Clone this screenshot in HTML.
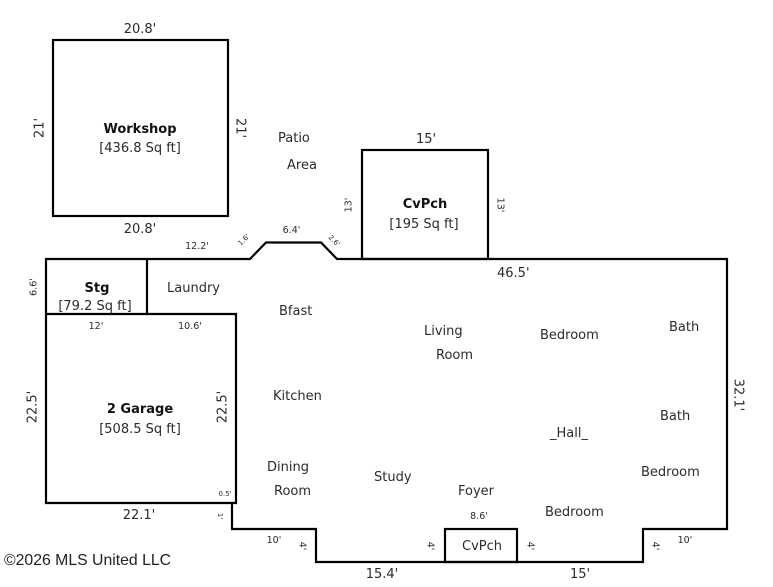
<!DOCTYPE html>
<html>
<head>
<meta charset="utf-8">
<style>
  html,body{margin:0;padding:0;background:#fff;}
  svg{display:block;}
  text{font-family:"DejaVu Sans","Liberation Sans",sans-serif;fill:#2b2b2b;}
  .b{font-weight:bold;fill:#111;}
  .r{font-size:13px;}
  .s{font-size:9.5px;}
  .t{font-size:7px;}
  .c{font-family:"Liberation Sans",Arial,sans-serif;font-size:15.8px;fill:#222;}
</style>
</head>
<body>
<svg width="773" height="587" viewBox="0 0 773 587" xmlns="http://www.w3.org/2000/svg">
  <rect width="773" height="587" fill="#fff"/>
  <g fill="none" stroke="#000" stroke-width="2.2" stroke-linejoin="miter">
    <!-- Workshop -->
    <rect x="53" y="40" width="175" height="176"/>
    <!-- Top CvPch -->
    <rect x="362" y="150" width="126" height="109"/>
    <!-- House outline -->
    <path d="M46,259 L250,259 L266,242.5 L321,242.5 L337,259 L727,259 L727,529 L643,529 L643,562 L316,562 L316,529 L232,529 L232,503 L46,503 Z"/>
    <!-- Stg / Garage -->
    <line x1="147" y1="259" x2="147" y2="314"/>
    <path d="M46,314 L236,314 L236,503 L232,503"/>
    <!-- Bottom CvPch -->
    <rect x="445" y="529" width="72" height="33"/>
  </g>

  <!-- Workshop -->
  <text class="r" x="140" y="33" text-anchor="middle">20.8'</text>
  <text class="r b" x="140" y="133" text-anchor="middle">Workshop</text>
  <text class="r" x="140" y="152" text-anchor="middle">[436.8 Sq ft]</text>
  <text class="r" x="140" y="233" text-anchor="middle">20.8'</text>
  <text class="r" transform="translate(40,128) rotate(-90)" text-anchor="middle" dominant-baseline="central">21'</text>
  <text class="r" transform="translate(240,128) rotate(90)" text-anchor="middle" dominant-baseline="central">21'</text>

  <!-- Patio -->
  <text class="r" x="278" y="142">Patio</text>
  <text class="r" x="287" y="169">Area</text>

  <!-- Top CvPch -->
  <text class="r" x="426" y="143" text-anchor="middle">15'</text>
  <text class="r b" x="425" y="208" text-anchor="middle">CvPch</text>
  <text class="r" x="424" y="228" text-anchor="middle">[195 Sq ft]</text>
  <text class="s" transform="translate(349,205) rotate(-90)" text-anchor="middle" dominant-baseline="central">13'</text>
  <text class="s" transform="translate(500,205) rotate(90)" text-anchor="middle" dominant-baseline="central">13'</text>

  <!-- bump -->
  <text class="s" x="291.5" y="233" text-anchor="middle">6.4'</text>
  <text class="t" transform="translate(244,240) rotate(-45)" text-anchor="middle" dominant-baseline="central">1.6'</text>
  <text class="t" transform="translate(334,241) rotate(45)" text-anchor="middle" dominant-baseline="central">2.6'</text>
  <text class="s" x="197" y="249" text-anchor="middle">12.2'</text>
  <text class="r" x="497" y="277">46.5'</text>

  <!-- Stg -->
  <text class="s" transform="translate(34,287) rotate(-90)" text-anchor="middle" dominant-baseline="central">6.6'</text>
  <text class="r b" x="97" y="292" text-anchor="middle">Stg</text>
  <text class="r" x="95" y="310" text-anchor="middle">[79.2 Sq ft]</text>
  <text class="r" x="167" y="292">Laundry</text>
  <text class="s" x="96" y="329" text-anchor="middle">12'</text>
  <text class="s" x="190" y="329" text-anchor="middle">10.6'</text>

  <!-- Garage -->
  <text class="r" transform="translate(33,407) rotate(-90)" text-anchor="middle" dominant-baseline="central">22.5'</text>
  <text class="r" transform="translate(223,407) rotate(-90)" text-anchor="middle" dominant-baseline="central">22.5'</text>
  <text class="r b" x="140" y="413" text-anchor="middle">2 Garage</text>
  <text class="r" x="140" y="433" text-anchor="middle">[508.5 Sq ft]</text>
  <text class="t" x="225" y="496" text-anchor="middle">0.5'</text>
  <text class="t" transform="translate(220,516) rotate(90)" text-anchor="middle" dominant-baseline="central">1'</text>
  <text class="r" x="139" y="519" text-anchor="middle">22.1'</text>

  <!-- Rooms -->
  <text class="r" x="279" y="315">Bfast</text>
  <text class="r" x="424" y="335">Living</text>
  <text class="r" x="436" y="359">Room</text>
  <text class="r" x="540" y="339">Bedroom</text>
  <text class="r" x="669" y="331">Bath</text>
  <text class="r" x="273" y="400">Kitchen</text>
  <text class="r" x="660" y="420">Bath</text>
  <text class="r" x="550" y="437">_Hall_</text>
  <text class="r" x="267" y="471">Dining</text>
  <text class="r" x="274" y="495">Room</text>
  <text class="r" x="374" y="481">Study</text>
  <text class="r" x="458" y="495">Foyer</text>
  <text class="r" x="641" y="476">Bedroom</text>
  <text class="r" x="545" y="516">Bedroom</text>
  <text class="r" transform="translate(738,395) rotate(90)" text-anchor="middle" dominant-baseline="central">32.1'</text>

  <!-- Bottom -->
  <text class="s" x="479" y="519" text-anchor="middle">8.6'</text>
  <text class="s" x="274" y="543" text-anchor="middle">10'</text>
  <text class="s" x="685" y="543" text-anchor="middle">10'</text>
  <text class="s" transform="translate(302,546) rotate(90)" text-anchor="middle" dominant-baseline="central">4'</text>
  <text class="s" transform="translate(430,546) rotate(90)" text-anchor="middle" dominant-baseline="central">4'</text>
  <text class="s" transform="translate(530,546) rotate(90)" text-anchor="middle" dominant-baseline="central">4'</text>
  <text class="s" transform="translate(655,546) rotate(90)" text-anchor="middle" dominant-baseline="central">4'</text>
  <text class="r" x="482" y="550" text-anchor="middle">CvPch</text>
  <text class="r" x="382" y="578" text-anchor="middle">15.4'</text>
  <text class="r" x="580" y="578" text-anchor="middle">15'</text>

  <!-- Copyright -->
  <text class="c" x="4" y="565">©2026 MLS United LLC</text>
</svg>
</body>
</html>
